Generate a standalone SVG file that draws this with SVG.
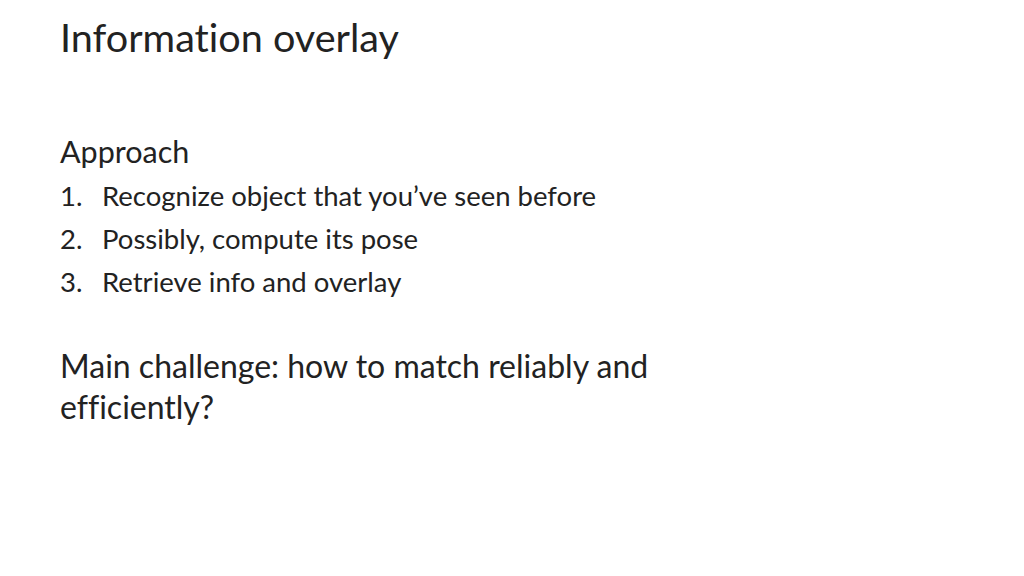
<svg xmlns="http://www.w3.org/2000/svg" width="1024" height="576" viewBox="0 0 1024 576">
<style>text{font-family:Lato,"Open Sans",sans-serif;fill:#222;font-variant-ligatures:none}</style>
<rect width="1024" height="576" fill="#fff"/>
<text x="60" y="52" font-size="39.6">Information overlay</text>
<text x="60" y="163" font-size="30.5">Approach</text>
<g font-size="27.5">
<text x="60" y="206">1.</text><text x="102" y="206">Recognize object that you’ve seen before</text>
<text x="60" y="249">2.</text><text x="102" y="249">Possibly, compute its pose</text>
<text x="60" y="292">3.</text><text x="102" y="292">Retrieve info and overlay</text>
</g>
<text x="60" y="378" font-size="32">Main challenge: how to match reliably and</text>
<text x="60" y="419" font-size="32">efficiently?</text>
</svg>
